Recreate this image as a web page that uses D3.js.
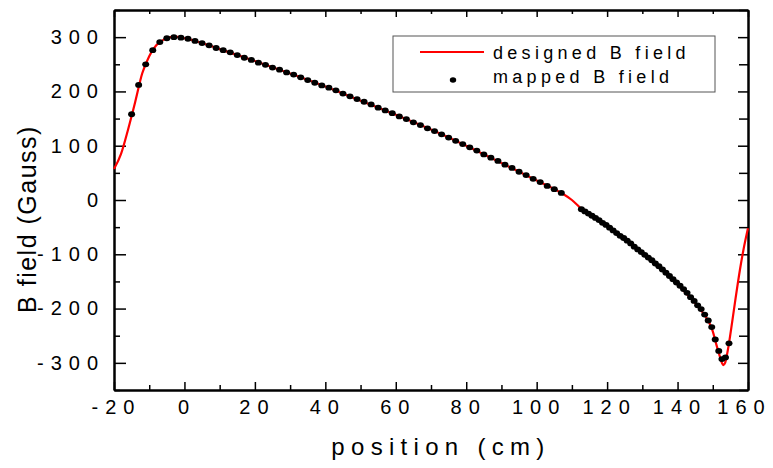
<!DOCTYPE html>
<html lang="en">
<head>
<meta charset="utf-8">
<style type="text/css">
    body { margin: 0; background: #fff; }
    svg { font-family: "Liberation Sans", Arial, sans-serif; }
    .axis path, .axis line { stroke: #000; }
    .axis path { stroke-width: 2px; }
    .axis line { stroke-width: 1.5px; }
    .axis text { font-size: 20px; letter-spacing: 7px; fill: #000; }
</style>
</head>
<body>
<svg width="773" height="468"></svg>

<script src="https://d3js.org/d3.v7.min.js"></script>
<script type="text/javascript">
    // designed field (red curve), position in cm and field in Gauss
    var designX = [-20, -18, -16, -14, -12, -10, -8, -6, -4, -2, 0, 2, 4, 6, 10, 20, 30, 40, 50, 60, 70, 80, 90, 100, 107,
        110, 113, 118, 123, 128, 133, 138, 143, 146, 147.7, 149, 150, 151, 152, 152.6, 153, 153.5, 154, 154.6,
        155.5, 156.5, 157.7, 158.7, 160];
    var designB = [57, 85, 130, 180, 233, 265, 285, 295, 300, 300.5, 298, 295, 291, 287, 278, 256, 233, 209, 183, 157, 130, 100, 68, 36, 13,
        0, -18, -39, -62, -88, -113, -142, -176, -198, -212, -226, -242, -266, -288, -300, -304, -300, -286, -264,
        -225, -180, -129, -92, -52];

    // mapped field (black dots), first run
    var mapX1 = [-15, -13, -11, -9, -7, -5, -3, -1, 1, 3, 5, 7, 9, 11, 13, 15, 17, 19, 21, 23, 25, 27, 29, 31, 33, 35,
        37, 39, 41, 43, 45, 47, 49, 51, 53, 55, 57, 59, 61, 63, 65, 67, 69, 71, 73, 75, 77, 79, 81, 83, 85, 87, 89,
        91, 93, 95, 97, 99, 101, 103, 105, 107];
    var mapB1 = [158, 212, 250, 276, 291, 298, 300, 299, 297, 293, 289, 285, 280, 276, 272, 267, 262, 258, 253, 249, 244,
        240, 235, 231, 226, 221, 216, 211, 207, 202, 196, 191, 186, 181, 176, 170, 165, 160, 154, 149, 143, 138, 132,
        127, 121, 115, 109, 103, 97, 91, 84, 78, 72, 65, 59, 52, 46, 39, 33, 26, 20, 13];

    // mapped field, second run
    var mapX2 = [112.7, 113.7, 114.7, 115.7, 116.7, 117.7, 118.7, 119.7, 120.7, 121.7, 122.7, 123.7, 124.7, 125.7,
        126.7, 127.7, 128.7, 129.7, 130.7, 131.7, 132.7, 133.7, 134.7, 135.7, 136.7, 137.7, 138.7, 139.7, 140.7,
        141.7, 142.7, 143.7, 144.7, 145.7, 146.7, 147.7, 148.7, 149.7, 150.7, 151.7, 152.6, 153.6, 154.6];
    var mapB2 = [-17, -21, -25, -29, -33, -37, -42, -46, -51, -56, -61, -66, -70, -75, -80, -86, -91, -96, -101, -106,
        -111, -117, -122, -128, -134, -140, -146, -152, -158, -164, -171, -179, -186, -194, -201, -211, -222, -234,
        -257, -278, -293, -290, -264];

    var xMajor = [-20, 0, 20, 40, 60, 80, 100, 120, 140, 160];
    var xMinor = [-10, 10, 30, 50, 70, 90, 110, 130, 150];
    var yMajor = [-300, -200, -100, 0, 100, 200, 300];
    var yMinor = [-350, -250, -150, -50, 50, 150, 250, 350];

    var svg = d3.select("svg"),
        pLeft = 114, pRight = 748, pTop = 10, pBottom = 390;

    var x = d3.scaleLinear().domain([-20, 160]).range([pLeft, pRight]);
    var y = d3.scaleLinear().domain([-350, 350]).range([pBottom, pTop]);

    // plain hyphen for negatives, like the original
    var fmt = function (d) { return String(d); };

    // frame + ticks, all pointing inward
    svg.append("g").attr("class", "axis").attr("transform", "translate(0," + pBottom + ")")
        .call(d3.axisBottom(x).tickValues(xMinor).tickSize(-5).tickSizeOuter(0).tickFormat(""));
    var xAx = svg.append("g").attr("class", "axis").attr("transform", "translate(0," + pBottom + ")")
        .call(d3.axisBottom(x).tickValues(xMajor).tickSize(-8).tickSizeOuter(0).tickPadding(10).tickFormat(fmt));
    svg.append("g").attr("class", "axis").attr("transform", "translate(0," + pTop + ")")
        .call(d3.axisTop(x).tickValues(xMinor).tickSize(-4).tickSizeOuter(0).tickFormat(""));
    svg.append("g").attr("class", "axis").attr("transform", "translate(0," + pTop + ")")
        .call(d3.axisTop(x).tickValues(xMajor).tickSize(-7).tickSizeOuter(0).tickFormat(""));

    svg.append("g").attr("class", "axis").attr("transform", "translate(" + pLeft + ",0)")
        .call(d3.axisLeft(y).tickValues(yMinor).tickSize(-6).tickSizeOuter(0).tickFormat(""));
    svg.append("g").attr("class", "axis").attr("transform", "translate(" + pLeft + ",0)")
        .call(d3.axisLeft(y).tickValues(yMajor).tickSize(-12).tickSizeOuter(0).tickPadding(9).tickFormat(fmt));
    svg.append("g").attr("class", "axis").attr("transform", "translate(" + pRight + ",0)")
        .call(d3.axisRight(y).tickValues(yMinor).tickSize(-9).tickSizeOuter(0).tickFormat(""));
    svg.append("g").attr("class", "axis").attr("transform", "translate(" + pRight + ",0)")
        .call(d3.axisRight(y).tickValues(yMajor).tickSize(-10).tickSizeOuter(0).tickFormat(""));

    // x tick labels: nudge for trailing letter spacing, keep the last one inside
    xAx.selectAll("text").attr("dx", function (d) { return d === 160 ? "-4" : "2"; });

    // designed curve
    var line = d3.line()
        .x(function (d) { return x(d[0]); })
        .y(function (d) { return y(d[1]); })
        .curve(d3.curveMonotoneX);

    svg.append("path")
        .datum(d3.zip(designX, designB))
        .attr("d", line)
        .attr("fill", "none")
        .attr("stroke", "#ff0000")
        .attr("stroke-width", 2.2);

    // mapped points
    var pts = d3.zip(mapX1, mapB1).concat(d3.zip(mapX2, mapB2));
    svg.append("g").selectAll("ellipse")
        .data(pts)
        .enter()
        .append("ellipse")
        .attr("cx", function (d) { return x(d[0]); })
        .attr("cy", function (d) { return y(d[1]); })
        .attr("rx", 3.5)
        .attr("ry", 2.9)
        .attr("fill", "#000");

    // axis titles
    svg.append("text")
        .attr("x", 441).attr("y", 455)
        .attr("text-anchor", "middle")
        .style("font-size", "24px")
        .style("letter-spacing", "6.3px")
        .text("position (cm)");

    svg.append("text")
        .attr("transform", "translate(36,219) rotate(-90)")
        .attr("text-anchor", "middle")
        .style("font-size", "25px")
        .style("letter-spacing", "1.5px")
        .text("B field (Gauss)");

    // legend
    var lg = svg.append("g");
    lg.append("rect")
        .attr("x", 393).attr("y", 36).attr("width", 322).attr("height", 56)
        .attr("fill", "#fff").attr("stroke", "#555").attr("stroke-width", 1);
    lg.append("line")
        .attr("x1", 420).attr("x2", 484).attr("y1", 52).attr("y2", 52)
        .attr("stroke", "#ff0000").attr("stroke-width", 2);
    lg.append("ellipse")
        .attr("cx", 453).attr("cy", 80).attr("rx", 3.2).attr("ry", 2.7).attr("fill", "#000");
    lg.append("text").attr("x", 493).attr("y", 59)
        .style("font-size", "18px").style("letter-spacing", "4.3px")
        .text("designed B field");
    lg.append("text").attr("x", 493).attr("y", 83)
        .style("font-size", "18px").style("letter-spacing", "4.3px")
        .text("mapped B field");
</script>
</body>
</html>
